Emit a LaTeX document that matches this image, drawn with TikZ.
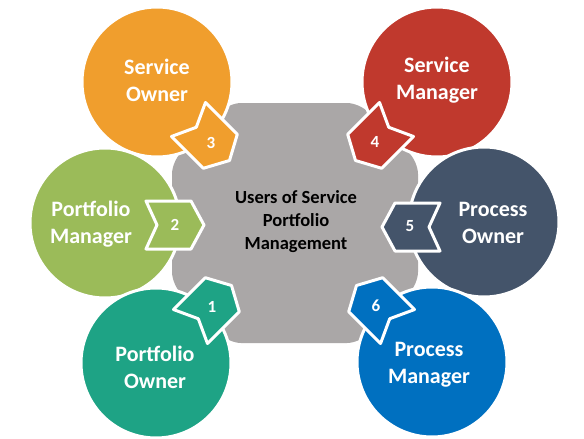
\documentclass[tikz,border=0pt]{standalone}
\usepackage{fontspec}
\setmainfont{Carlito}
\definecolor{cOrange}{RGB}{240,158,45}
\definecolor{cRed}{RGB}{192,57,45}
\definecolor{cGreen}{RGB}{155,187,89}
\definecolor{cSlate}{RGB}{68,84,106}
\definecolor{cTeal}{RGB}{30,163,133}
\definecolor{cBlue}{RGB}{0,112,192}
\definecolor{cGray}{RGB}{170,167,167}
\begin{document}
\begin{tikzpicture}[x=1pt,y=-1pt,
  bigcirc/.style={circle, minimum size=150pt, inner sep=0pt, draw=white, line width=3pt},
  circtext/.style={text=white, align=center, inner sep=0pt, font=\fontsize{22}{27}\selectfont\bfseries},
  badgenum/.style={text=white, font=\fontsize{17}{20}\selectfont\bfseries, inner sep=0pt},
  badgeshape/.style={draw=white, line width=3pt, line join=round}
]
\useasboundingbox (0,0) rectangle (584,439);
\fill[white] (0,0) rectangle (584,439);

% central octagon
\fill[cGray, rounded corners=12pt] (229,103) -- (359,103) -- (418,162) -- (418,284) -- (359,343)
  -- (229,343) -- (172,284) -- (172,162) -- cycle;
\node[font=\fontsize{18.5}{23}\selectfont\bfseries, align=center, text=black] (center) at (296,222)
  {Users of Service\\Portfolio\\Management};

% circles
\node[bigcirc, fill=cOrange] (so) at (157,82) {};
\node[bigcirc, fill=cRed] (sm) at (437,82) {};
\node[bigcirc, fill=cGreen] (pm) at (105,223) {};
\node[bigcirc, fill=cSlate] (po) at (484,222) {};
\node[bigcirc, fill=cTeal] (pfo) at (156,363) {};
\node[bigcirc, fill=cBlue] (prm) at (432,362) {};

% badges (chevrons pointing to centre)
\newcommand{\chev}[4]{%
  \fill[#4, badgeshape] (#1,#2) ++(0,0) [rotate around={#3:(#1,#2)}]
    ++(-29,-24) -- ++(45,0) -- ++(13,24) -- ++(-13,24) -- ++(-45,0) -- ++(11,-24) -- cycle;}
\chev{209}{140}{-45}{cOrange}
\chev{376}{140}{-135}{cRed}
\chev{175}{225}{0}{cGreen}
\chev{411}{227}{180}{cSlate}
\chev{211}{306}{45}{cTeal}
\chev{377}{306}{135}{cBlue}

% labels
\node[circtext] (tso) at (157,80) {Service\\Owner};
\node[circtext] (tsm) at (437,80) {Service\\Manager};
\node[circtext] (tpm) at (91,224) {Portfolio\\Manager};
\node[circtext] (tpo) at (493,223) {Process\\Owner};
\node[circtext] (tpfo) at (155,367) {Portfolio\\Owner};
\node[circtext] (tprm) at (429,365) {Process\\Manager};

\node[badgenum] (b3) at (211,143) {3};
\node[badgenum] (b4) at (375,142) {4};
\node[badgenum] (b2) at (175,225) {2};
\node[badgenum] (b5) at (410,226) {5};
\node[badgenum] (b1) at (212,307) {1};
\node[badgenum] (b6) at (376,306) {6};
\end{tikzpicture}
\end{document}
